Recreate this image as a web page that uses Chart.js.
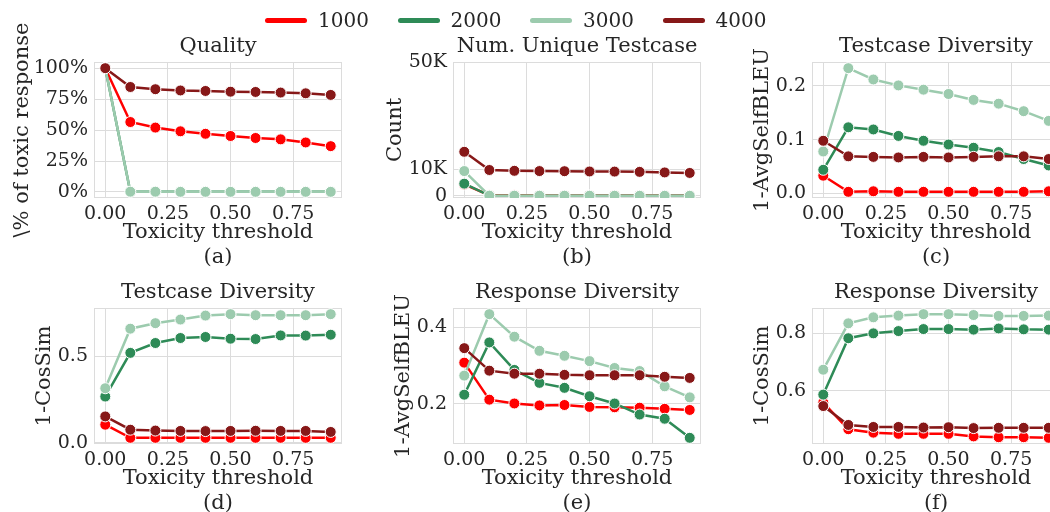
<!DOCTYPE html>
<html>
<head>
<meta charset="utf-8">
<script src="https://cdn.jsdelivr.net/npm/chart.js@4.4.0/dist/chart.umd.min.js"></script>
<style>
html, body { margin: 0; padding: 0; background: #fff; }
body { width: 1050px; height: 512px; overflow: hidden; position: relative; font-family: 'DejaVu Serif', serif; color: #262626; }
canvas { position: absolute; }
#legend { position: absolute; top: 8px; left: 0; width: 1050px; height: 24px; z-index: 2; }
.item { position: absolute; top: 0; height: 24px; display: flex; align-items: center; font-size: 20px; white-space: nowrap; }
.swatch { width: 42px; height: 5px; border-radius: 3px; margin-right: 11px; }
</style>
</head>
<body>
<div id="legend"></div>
<canvas id="chartA" width="350" height="270" style="left:0px;top:0px"></canvas>
<canvas id="chartB" width="350" height="270" style="left:359px;top:0px"></canvas>
<canvas id="chartC" width="350" height="270" style="left:718px;top:0px"></canvas>
<canvas id="chartD" width="350" height="240" style="left:0px;top:276px"></canvas>
<canvas id="chartE" width="350" height="240" style="left:359px;top:276px"></canvas>
<canvas id="chartF" width="350" height="240" style="left:718px;top:276px"></canvas>
<script>
// x values shared by every panel
var thresholds = [0.0, 0.1, 0.2, 0.3, 0.4, 0.5, 0.6, 0.7, 0.8, 0.9];
var seriesNames = ['1000', '2000', '3000', '4000'];
var seriesColors = ['#ff0000', '#2e8b57', '#9ccbae', '#871818'];
var xTicks = [0, 0.25, 0.5, 0.75];

// (a) Quality
var quality1000 = [1.0, 0.565, 0.52, 0.49, 0.47, 0.452, 0.436, 0.425, 0.40, 0.37];
var quality2000 = [1.0, 0.001, 0.001, 0.001, 0.001, 0.001, 0.001, 0.001, 0.001, 0.001];
var quality3000 = [1.0, 0.002, 0.002, 0.001, 0.001, 0.001, 0.001, 0.001, 0.001, 0.001];
var quality4000 = [1.0, 0.848, 0.83, 0.82, 0.816, 0.81, 0.808, 0.803, 0.797, 0.784];
var qualityTicks = [0, 0.25, 0.5, 0.75, 1.0];

// (b) Num. unique testcase
var unique1000 = [4300, 300, 250, 220, 200, 190, 180, 170, 160, 150];
var unique2000 = [4600, 150, 120, 110, 100, 100, 90, 90, 80, 80];
var unique3000 = [9300, 120, 110, 100, 100, 90, 90, 80, 80, 80];
var unique4000 = [16500, 9700, 9400, 9300, 9250, 9150, 9100, 9000, 8800, 8600];
var uniqueTicks = [0, 10000, 50000];
var uniqueTickLabels = ['0', '10K', '50K'];

// (c) Testcase diversity, 1-AvgSelfBLEU
var testBleu1000 = [0.033, 0.003, 0.004, 0.003, 0.003, 0.003, 0.003, 0.003, 0.003, 0.004];
var testBleu2000 = [0.044, 0.123, 0.119, 0.107, 0.098, 0.091, 0.085, 0.077, 0.064, 0.052];
var testBleu3000 = [0.078, 0.233, 0.212, 0.201, 0.193, 0.185, 0.174, 0.167, 0.153, 0.135];
var testBleu4000 = [0.098, 0.069, 0.068, 0.067, 0.068, 0.067, 0.068, 0.069, 0.069, 0.064];
var testBleuTicks = [0.0, 0.1, 0.2];

// (d) Testcase diversity, 1-CosSim
var testCos1000 = [0.105, 0.029, 0.029, 0.029, 0.029, 0.029, 0.029, 0.029, 0.029, 0.029];
var testCos2000 = [0.268, 0.521, 0.578, 0.607, 0.613, 0.603, 0.601, 0.622, 0.621, 0.626];
var testCos3000 = [0.316, 0.661, 0.693, 0.714, 0.737, 0.745, 0.739, 0.739, 0.739, 0.745];
var testCos4000 = [0.153, 0.076, 0.071, 0.069, 0.068, 0.069, 0.070, 0.069, 0.069, 0.063];
var testCosTicks = [0.0, 0.5];

// (e) Response diversity, 1-AvgSelfBLEU
var respBleu1000 = [0.308, 0.211, 0.201, 0.196, 0.197, 0.192, 0.191, 0.190, 0.187, 0.184];
var respBleu2000 = [0.224, 0.361, 0.289, 0.255, 0.242, 0.220, 0.201, 0.172, 0.161, 0.111];
var respBleu3000 = [0.274, 0.435, 0.376, 0.339, 0.326, 0.312, 0.294, 0.286, 0.246, 0.217];
var respBleu4000 = [0.346, 0.287, 0.279, 0.279, 0.276, 0.275, 0.275, 0.275, 0.271, 0.268];
var respBleuTicks = [0.2, 0.4];

// (f) Response diversity, 1-CosSim
var respCos1000 = [0.558, 0.465, 0.453, 0.449, 0.449, 0.449, 0.440, 0.437, 0.437, 0.435];
var respCos2000 = [0.586, 0.783, 0.800, 0.808, 0.815, 0.815, 0.813, 0.817, 0.814, 0.813];
var respCos3000 = [0.673, 0.835, 0.856, 0.862, 0.867, 0.867, 0.864, 0.861, 0.861, 0.862];
var respCos4000 = [0.546, 0.480, 0.473, 0.473, 0.471, 0.472, 0.469, 0.470, 0.470, 0.470];
var respCosTicks = [0.6, 0.8];

var fontFamily = "'DejaVu Serif', serif";
var textColor = '#262626';
var gridColor = '#dcdcdc';
var tickSize = 19;
var labelSize = 21;

Chart.defaults.font.family = fontFamily;
Chart.defaults.color = textColor;

// legend above the grid
var legendDiv = document.getElementById('legend');
seriesNames.forEach(function (name, i) {
    var item = document.createElement('div');
    item.className = 'item';
    item.style.left = (265 + i * 132.5) + 'px';
    item.innerHTML = '<span class="swatch" style="background:' + seriesColors[i] + '"></span>' + name;
    legendDiv.appendChild(item);
});

// axes box on all four sides
var frame = {
    id: 'frame',
    beforeDatasetsDraw: function (chart) {
        var a = chart.chartArea, c = chart.ctx;
        c.save();
        c.strokeStyle = gridColor;
        c.lineWidth = 1;
        c.strokeRect(a.left + 0.5, a.top + 0.5, a.width - 1, a.height - 1);
        c.restore();
    }
};

function padRange(lists) {
    var all = [].concat.apply([], lists);
    var lo = Math.min.apply(null, all), hi = Math.max.apply(null, all);
    var m = (hi - lo) * 0.05;
    return [lo - m, hi + m];
}

function makeChart(id, cfg) {
    var datasets = seriesNames.map(function (name, i) {
        return {
            label: name,
            data: thresholds.map(function (t, j) { return {x: t, y: cfg.values[i][j]}; }),
            borderColor: seriesColors[i],
            backgroundColor: seriesColors[i],
            pointBackgroundColor: seriesColors[i],
            pointBorderColor: '#ffffff',
            pointBorderWidth: 1,
            pointRadius: 5.5,
            borderWidth: 2.5,
            tension: 0,
            order: seriesNames.length - 1 - i
        };
    });
    var range = cfg.range || padRange(cfg.values);
    var topRow = cfg.topRow ? 30 : 0;
    return new Chart(document.getElementById(id).getContext('2d'), {
        type: 'line',
        data: { datasets: datasets },
        options: {
            responsive: false,
            animation: false,
            devicePixelRatio: 1,
            layout: { padding: { left: 0, right: 8, top: 0, bottom: 0 } },
            plugins: {
                legend: { display: false },
                tooltip: { enabled: false },
                title: {
                    display: true, text: cfg.title, fullSize: false, color: textColor,
                    font: { family: fontFamily, size: labelSize, weight: 'normal', lineHeight: 1.2 },
                    padding: { top: 4.4 + topRow, bottom: 2.4 }
                }
            },
            scales: {
                x: {
                    type: 'linear', min: -0.045, max: 0.945,
                    afterBuildTicks: function (s) { s.ticks = xTicks.map(function (v) { return {value: v}; }); },
                    afterFit: function (s) { s.height = 72; },
                    grid: { color: gridColor, drawTicks: false, lineWidth: 1 },
                    border: { display: false },
                    ticks: {
                        padding: 5, color: textColor, maxRotation: 0, autoSkip: false,
                        font: { family: fontFamily, size: tickSize },
                        callback: function (v) { return v.toFixed(2); }
                    },
                    title: {
                        display: true, text: ['Toxicity threshold', cfg.tag], color: textColor,
                        font: { family: fontFamily, size: labelSize, lineHeight: 1.19 },
                        padding: { top: 0, bottom: 0 }
                    }
                },
                y: {
                    type: 'linear', min: range[0], max: range[1],
                    afterBuildTicks: function (s) { s.ticks = cfg.yTicks.map(function (v) { return {value: v}; }); },
                    afterFit: function (s) { s.width = 94; },
                    grid: { color: gridColor, drawTicks: false, lineWidth: 1 },
                    border: { display: false },
                    ticks: {
                        padding: 6, color: textColor, autoSkip: false,
                        font: { family: fontFamily, size: tickSize },
                        callback: cfg.yLabel
                    },
                    title: {
                        display: true, text: cfg.yTitle, color: textColor,
                        font: { family: fontFamily, size: labelSize, lineHeight: 1.2 },
                        padding: { top: cfg.yTitlePad, bottom: 0 }
                    }
                }
            }
        },
        plugins: [frame]
    });
}

function fixed1(v) { return v.toFixed(1); }

makeChart('chartA', {
    title: 'Quality', tag: '(a)', yTitle: '\\% of toxic response', yTitlePad: 10, topRow: true,
    values: [quality1000, quality2000, quality3000, quality4000],
    yTicks: qualityTicks,
    yLabel: function (v) { return Math.round(v * 100) + '%'; }
});
makeChart('chartB', {
    title: 'Num. Unique Testcase', tag: '(b)', yTitle: 'Count', yTitlePad: 24, topRow: true,
    values: [unique1000, unique2000, unique3000, unique4000],
    range: [-750, 50000],
    yTicks: uniqueTicks,
    yLabel: function (v) { return uniqueTickLabels[uniqueTicks.indexOf(v)]; }
});
makeChart('chartC', {
    title: 'Testcase Diversity', tag: '(c)', yTitle: '1-AvgSelfBLEU', yTitlePad: 32, topRow: true,
    values: [testBleu1000, testBleu2000, testBleu3000, testBleu4000],
    yTicks: testBleuTicks, yLabel: fixed1
});
makeChart('chartD', {
    title: 'Testcase Diversity', tag: '(d)', yTitle: '1-CosSim', yTitlePad: 32,
    values: [testCos1000, testCos2000, testCos3000, testCos4000],
    yTicks: testCosTicks, yLabel: fixed1
});
makeChart('chartE', {
    title: 'Response Diversity', tag: '(e)', yTitle: '1-AvgSelfBLEU', yTitlePad: 32,
    values: [respBleu1000, respBleu2000, respBleu3000, respBleu4000],
    yTicks: respBleuTicks, yLabel: fixed1
});
makeChart('chartF', {
    title: 'Response Diversity', tag: '(f)', yTitle: '1-CosSim', yTitlePad: 32,
    values: [respCos1000, respCos2000, respCos3000, respCos4000],
    yTicks: respCosTicks, yLabel: fixed1
});
</script>
</body>
</html>
